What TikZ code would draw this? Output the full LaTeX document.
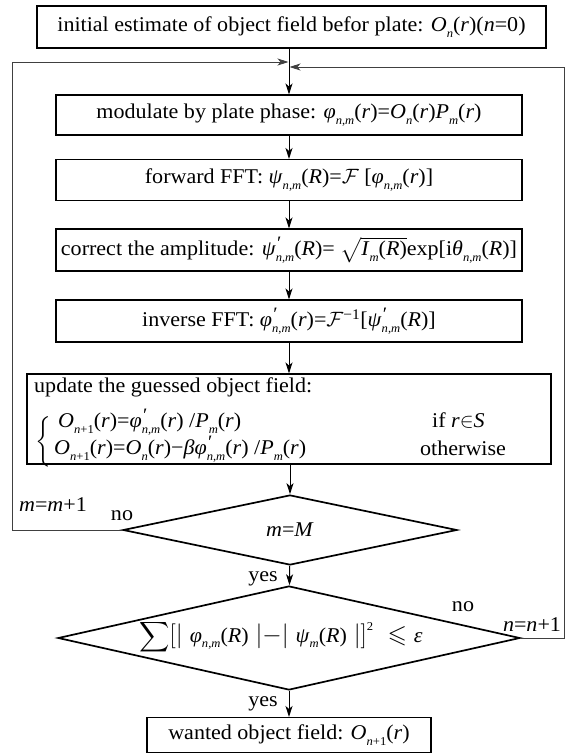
\documentclass[tikz,border=0pt]{standalone}
\usepackage{amssymb}
\usepackage{fontspec}
\setmainfont{Liberation Serif}[FakeStretch=1.05]
\usetikzlibrary{shapes.geometric,arrows.meta}
\newcommand\I[1]{\textit{#1}}
\newcommand\Sub[1]{\raisebox{-0.6ex}{\fontsize{12}{12}\selectfont #1}}
\newcommand\Prime{\makebox[0pt][l]{\raisebox{0.7ex}{\fontsize{19}{19}\selectfont\textit{′}}}}
\newcommand\Fr{$\mathcal{F}$}
\newcommand\Tx[1]{\mbox{\fontsize{21}{24}\selectfont #1}}
\newcommand\Tsum{\mbox{\fontsize{21}{24}\selectfont$\displaystyle\sum$}}
\begin{document}
\begin{tikzpicture}[x=1pt,y=-1pt,
  font=\fontsize{21}{24}\selectfont,
  box/.style={draw, line width=1.1pt, inner sep=0pt},
  dia/.style={diamond, draw, line width=1.7pt, inner sep=0pt},
  arr/.style={-{Stealth[length=11pt,width=7pt,inset=3pt]}, line width=1pt},
  fb/.style={line width=0.8pt, draw=black!75},
  lbl/.style={inner sep=0pt}]
\useasboundingbox (0,0) rectangle (576,753);
% boxes
\node[box, minimum width=509pt, minimum height=42pt] (b0) at (291.5,27)
  {initial estimate of object field befor plate: \I{O}\Sub{\I{n}}(\I{r})(\I{n}=0)};
\node[box, minimum width=466pt, minimum height=40pt] (b1) at (289,115)
  {modulate by plate phase: \I{φ}\Sub{\I{n},\I{m}}(\I{r})=\I{O}\Sub{\I{n}}(\I{r})\I{P}\Sub{\I{m}}(\I{r})};
\node[box, minimum width=466pt, minimum height=41pt] (b2) at (289,180)
  {forward FFT: \I{ψ}\Sub{\I{n},\I{m}}(\I{R})=\Fr\ [\I{φ}\Sub{\I{n},\I{m}}(\I{r})]};
\node[box, minimum width=466pt, minimum height=42pt] (b3) at (289,250)
  {correct the amplitude: \I{ψ}\Prime\Sub{\I{n},\I{m}}(\I{R})= $\sqrt{\mbox{\I{I}\Sub{\I{m}}(\I{R})}}$exp[i\I{θ}\Sub{\I{n},\I{m}}(\I{R})]};
\node[box, minimum width=466pt, minimum height=42pt] (b4) at (289,321)
  {inverse FFT: \I{φ}\Prime\Sub{\I{n},\I{m}}(\I{r})=\Fr\textsuperscript{−1}[\I{ψ}\Prime\Sub{\I{n},\I{m}}(\I{R})]};
\node[box, minimum width=524pt, minimum height=90pt] (b5) at (289,419) {};
\node[lbl, anchor=west] (u0) at (34,387) {update the guessed object field:};
\node[lbl] (br) at (44,442) {$\left\{\rule[-17pt]{0pt}{34pt}\right.$};
\node[lbl, anchor=west] (u1) at (58,422) {\I{O}\Sub{\I{n}+1}(\I{r})=\I{φ}\Prime\Sub{\I{n},\I{m}}(\I{r}) /\I{P}\Sub{\I{m}}(\I{r})};
\node[lbl, anchor=west] (u2) at (432,421) {if \I{r}$\in$\I{S}};
\node[lbl, anchor=west] (u3) at (54,449) {\I{O}\Sub{\I{n}+1}(\I{r})=\I{O}\Sub{\I{n}}(\I{r})−\I{β}\I{φ}\Prime\Sub{\I{n},\I{m}}(\I{r}) /\I{P}\Sub{\I{m}}(\I{r})};
\node[lbl, anchor=west] (u4) at (420,448) {otherwise};
% diamonds
\node[dia, minimum width=334pt, minimum height=70pt] (d1) at (290,530) {};
\node[lbl] (t1) at (d1.center) {\I{m}=\I{M}};
\node[dia, minimum width=462pt, minimum height=104pt] (d2) at (289,638) {};
\node[lbl, font=\fontsize{25}{30}\selectfont] (t2) at (281,637) {$\Tsum\Big[\Big|\;\Tx{\I{φ}\Sub{\I{n},\I{m}}(\I{R})}\;\Big|{-}\Big|\;\Tx{\I{ψ}\Sub{\I{m}}(\I{R})}\;\Big|\Big]^{\Tx{\fontsize{12}{12}\selectfont 2}}\;\leqslant\Tx{\I{ε}}$};
\node[box, minimum width=284pt, minimum height=35pt] (b6) at (289,735)
  {wanted object field: \I{O}\Sub{\I{n}+1}(\I{r})};
% main arrows
\draw[arr] (b1.north |- b0.south) -- (b1.north);
\draw[arr] (b1) -- (b2);
\draw[arr] (b2) -- (b3);
\draw[arr] (b3) -- (b4);
\draw[arr] (b4) -- (b5);
\draw[arr] (b5.south -| d1.north) -- (d1.north);
\draw[arr] (d1) -- (d2);
\draw[arr] (d2) -- (b6);
% feedback loops
\coordinate (lc) at (12,62);
\coordinate (jl) at (288.5,62);
\coordinate (rc) at (564,67);
\coordinate (jr) at (289.5,67);
\draw[fb, -{Stealth[length=11pt,width=7pt,inset=3pt]}] (d1.west) -| (lc) -- (jl);
\draw[fb, -{Stealth[length=11pt,width=7pt,inset=3pt]}] (d2.east) -| (rc) -- (jr);
% labels
\node[lbl] (l1) at (53,505) {\I{m}=\I{m}+1};
\node[lbl] (l2) at (122,516) {no};
\node[lbl] (l3) at (263,579) {yes};
\node[lbl] (l4) at (463,607) {no};
\node[lbl] (l5) at (532,625) {\I{n}=\I{n}+1};
\node[lbl] (l6) at (263,704) {yes};
\end{tikzpicture}
\end{document}
